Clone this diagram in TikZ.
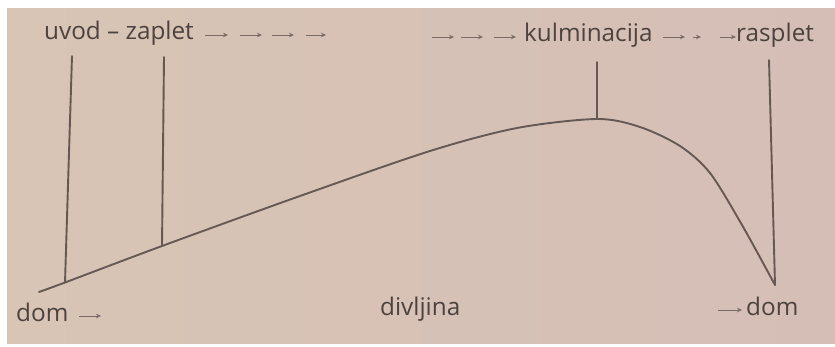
\documentclass[tikz,border=0pt]{standalone}
\usepackage{fontspec}
\setmainfont{Open Sans}
\usetikzlibrary{arrows.meta}
\definecolor{paperL}{RGB}{216,197,181}
\definecolor{paperR}{RGB}{213,190,182}
\definecolor{ink}{RGB}{76,66,62}
\definecolor{stroke}{RGB}{102,88,84}
\definecolor{arrowc}{RGB}{122,107,102}
\tikzset{
  curveline/.style={draw=stroke, line width=1.9pt, line cap=round, line join=round},
  label/.style={inner sep=0pt, anchor=base west, text=ink, font=\fontsize{24.3}{27}\selectfont},
  flow/.style={draw=arrowc, line width=0.8pt, -{Stealth[length=5pt,width=4.5pt]}}
}
\begin{document}
\begin{tikzpicture}[x=1pt,y=-1pt]
\useasboundingbox (0,0) rectangle (835,347);
\fill[white] (0,0) rectangle (835,347);
\shade[left color=paperL, right color=paperR] (7,9) rectangle (835,343);

% labels
\node[label] (uvod) at (44,40) {uvod – zaplet};
\node[label] (kulm) at (524,42) {kulminacija};
\node[label] (rasp) at (736,42) {rasplet};
\node[label] (dom1) at (16,321) {dom};
\node[label] (divl) at (380,316) {divljina};
\node[label] (dom2) at (746,315) {dom};

% small flow arrows
\coordinate (a1s) at (205,35); \coordinate (a1e) at (228,35);
\coordinate (a2s) at (240,35); \coordinate (a2e) at (262,35);
\coordinate (a3s) at (272,35); \coordinate (a3e) at (294,35);
\coordinate (a4s) at (306,35); \coordinate (a4e) at (326,35);
\coordinate (b1s) at (432,37); \coordinate (b1e) at (454,37);
\coordinate (b2s) at (461,37); \coordinate (b2e) at (483,37);
\coordinate (b3s) at (494,37); \coordinate (b3e) at (516,37);
\coordinate (b4s) at (663,37); \coordinate (b4e) at (685,37);
\coordinate (b5s) at (693,37); \coordinate (b5e) at (701,37);
\coordinate (b6s) at (720,37); \coordinate (b6e) at (736,37);
\coordinate (d1s) at (79,316); \coordinate (d1e) at (101,316);
\coordinate (d2s) at (718,310); \coordinate (d2e) at (742,310);
\foreach \p in {a1,a2,a3,a4,b1,b2,b3,b4,b5,b6,d1,d2}
  \draw[flow] (\p s) -- (\p e);

% plot line points
\coordinate (c0) at (39,292);
\coordinate (c1) at (65,282.5);
\coordinate (c2) at (162,246);
\coordinate (c3) at (300,196);
\coordinate (c4) at (430,151);
\coordinate (c5) at (517,128);
\coordinate (c6) at (597,119);
\coordinate (c7) at (640,127);
\coordinate (c8) at (680,146);
\coordinate (c9) at (710,173);
\coordinate (c10) at (742,225);
\coordinate (c11) at (775,285);
\draw[curveline] plot[smooth, tension=0.5] coordinates {(c0) (c1) (c2) (c3) (c4) (c5) (c6) (c7) (c8) (c9) (c10) (c11)};

% vertical markers
\coordinate (t1) at (72,56);
\coordinate (t2) at (164,57);
\coordinate (t3) at (597,62);
\coordinate (t4) at (769,60);
\draw[curveline] (t1) -- (c1);
\draw[curveline] (t2) -- (c2);
\draw[curveline] (t3) -- (c6);
\draw[curveline] (t4) -- (c11);
\end{tikzpicture}
\end{document}
